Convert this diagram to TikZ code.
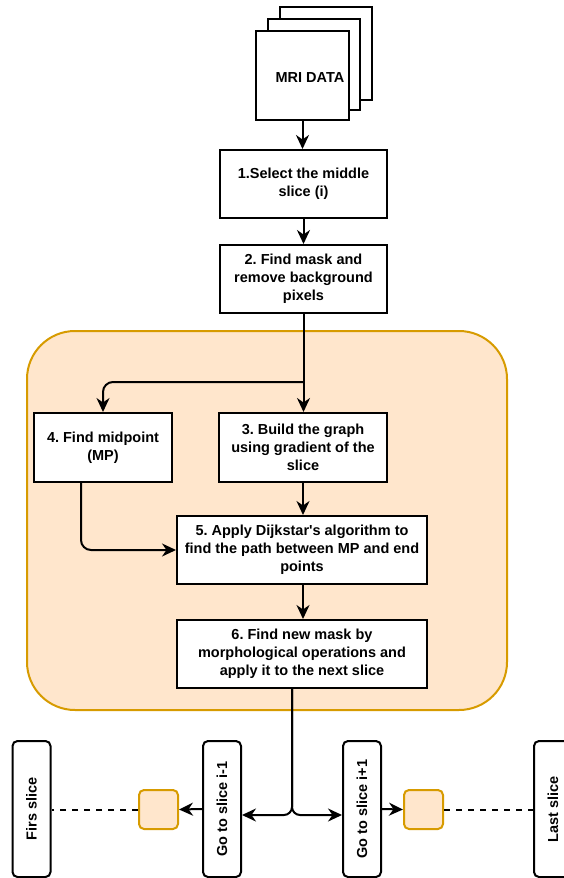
\documentclass[tikz,border=0pt]{standalone}
\usepackage{fontspec}
\setmainfont{Liberation Sans}[Ligatures=TeXOff]
\usetikzlibrary{arrows.meta}
\definecolor{paleorange}{HTML}{FFE6CC}
\definecolor{amber}{HTML}{D79B00}
\frenchspacing
\begin{document}
\begin{tikzpicture}[x=1pt,y=-1pt,
  every node/.style={font=\fontsize{14.5}{18}\selectfont\bfseries},
  stepbox/.style={draw=black, line width=2pt, fill=white, align=center, inner sep=0pt},
  slicebox/.style={draw=black, line width=2pt, fill=white, rounded corners=5pt,
    minimum width=38pt, minimum height=136pt, inner sep=0pt},
  marker/.style={draw=amber, fill=paleorange, line width=2pt, rounded corners=5pt,
    minimum size=39pt, inner sep=0pt},
  stage/.style={draw=amber, fill=paleorange, line width=2pt, rounded corners=48pt},
  flow/.style={line width=2pt, -{Stealth[length=14pt,width=13pt,inset=4.5pt]}},
  gap/.style={line width=2pt, dash pattern=on 6pt off 6pt},
]
\useasboundingbox (0,0) rectangle (564,878);
\clip (0,0) rectangle (564,878);

% processing stage background
\node[stage, minimum width=480pt, minimum height=379pt] (stage) at (267,520.5) {};

% stack of MRI slices
\node[stepbox, minimum width=92pt, minimum height=93pt] (page3) at (326,53.5) {};
\node[stepbox, minimum width=92pt, minimum height=91pt] (page2) at (314,64.5) {};
\node[stepbox, minimum width=93pt, minimum height=89pt] (front) at (302.5,75) {};
\node (mritext) at (310,78) {MRI DATA};

% processing steps
\node[stepbox, minimum width=167pt, minimum height=68pt] (s1) at (303.5,184)
  {1.Select the middle\\slice (i)};
\node[stepbox, minimum width=167pt, minimum height=68pt] (s2) at (303.5,279)
  {2. Find mask and\\remove background\\pixels};
\node[stepbox, minimum width=168pt, minimum height=69pt] (s3) at (303,447.5)
  {3. Build the graph\\using gradient of the\\slice};
\node[stepbox, minimum width=138pt, minimum height=69pt] (s4) at (103,447.5)
  {4. Find midpoint\\(MP)};
\node[stepbox, minimum width=250pt, minimum height=68pt] (s5) at (302,550)
  {5. Apply Dijkstar's algorithm to\\find the path between MP and end\\points};
\node[stepbox, minimum width=250pt, minimum height=68pt] (s6) at (302,654)
  {6. Find new mask by\\morphological operations and\\apply it to the next slice};

% slice navigation
\node[slicebox] (first) at (31.5,809) {\rotatebox{90}{Firs slice}};
\node[slicebox] (goL) at (222,809) {\rotatebox{90}{Go to slice i-1}};
\node[slicebox] (goR) at (362,809) {\rotatebox{90}{Go to slice i+1}};
\node[slicebox] (last) at (553,809) {\rotatebox{90}{Last slice}};
\node[marker] (mL) at (158.5,809.5) {};
\node[marker] (mR) at (423.5,809.5) {};

% connectors
\draw[flow] (front.south) -- (front.south |- s1.north);
\draw[flow] (s1.south) -- (s2.north);
\draw[flow] (s2.south) -- (s2.south |- s3.north);
\coordinate (split) at (s2.south |- 0,382);
\draw[flow, rounded corners=10pt] (split) -| (s4.north);
\draw[flow] (s3.south) -- (s3.south |- s5.north);
\draw[flow, rounded corners=10pt] ([xshift=-22pt]s4.south) |- (s5.west);
\draw[flow] (s3.south |- s5.south) -- (s3.south |- s6.north);
\draw[flow, rounded corners=8pt] ([xshift=-10pt]s6.south) |- ([yshift=-6pt]goL.east);
\draw[flow, rounded corners=8pt] ([xshift=-10pt]s6.south) |- ([yshift=-6pt]goR.west);
\draw[flow] (goL.west) -- (mL.east);
\draw[flow] (goR.east) -- (mR.west);
\draw[gap] (mL.west) -- (first.east |- mL.west);
\draw[gap] (mR.east) -- (last.west |- mR.east);
\end{tikzpicture}
\end{document}
